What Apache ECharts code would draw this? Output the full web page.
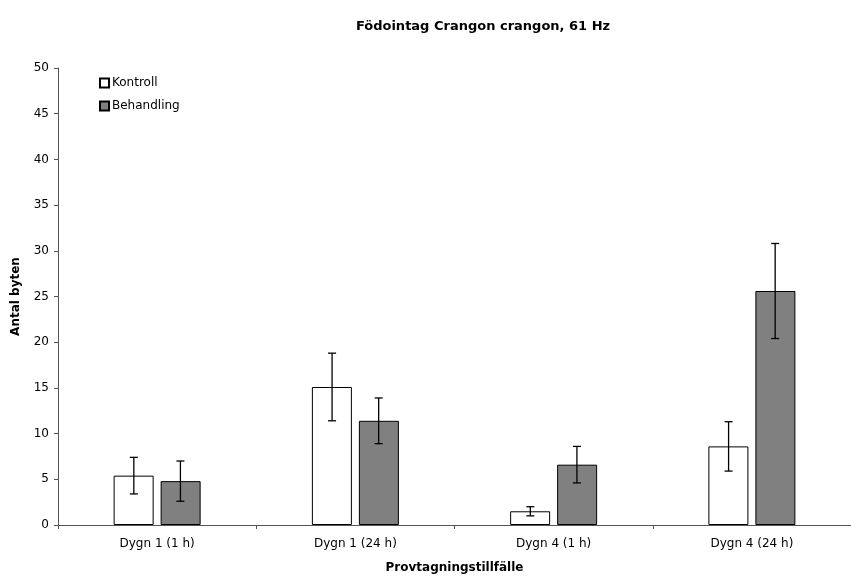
<!DOCTYPE html>
<html><head><meta charset="utf-8">
<script src="https://cdn.jsdelivr.net/npm/echarts@6/dist/echarts.min.js"></script>
<style>html,body{margin:0;padding:0;background:#fff}#c{width:851px;height:579px}</style>
</head><body><div id="c"></div>
<script>
var categories = ['Dygn 1 (1 h)', 'Dygn 1 (24 h)', 'Dygn 4 (1 h)', 'Dygn 4 (24 h)'];
var kontroll = [5.4, 15.1, 1.5, 8.6];
var kontrollErr = [2.0, 3.7, 0.5, 2.7];
var behandling = [4.8, 11.4, 6.6, 25.6];
var behandlingErr = [2.2, 2.5, 2.0, 5.2];
var yTicks = [0, 5, 10, 15, 20, 25, 30, 35, 40, 45, 50];

var FONT = 'Verdana, "DejaVu Sans", sans-serif';
var chart = echarts.init(document.getElementById('c'));

function errSeries(name, vals, errs, side) {
  return {
    type: 'custom', name: name + ' err', silent: true, z: 10,
    data: vals.map(function (v, i) { return [i, v - errs[i], v + errs[i]]; }),
    renderItem: function (params, api) {
      var band = api.size([1, 0])[0];
      var off = side * band * 0.1175;
      var lo = api.coord([api.value(0), api.value(1)]);
      var hi = api.coord([api.value(0), api.value(2)]);
      var x = lo[0] + off, cap = 4;
      var st = { stroke: '#000', lineWidth: 1.3 };
      return { type: 'group', children: [
        { type: 'line', shape: { x1: x, y1: lo[1], x2: x, y2: hi[1] }, style: st },
        { type: 'line', shape: { x1: x - cap, y1: lo[1], x2: x + cap, y2: lo[1] }, style: st },
        { type: 'line', shape: { x1: x - cap, y1: hi[1], x2: x + cap, y2: hi[1] }, style: st }
      ]};
    }
  };
}

chart.setOption({
  animation: false,
  textStyle: { fontFamily: FONT },
  title: {
    text: 'Födointag Crangon crangon, 61 Hz', left: 478, top: 15, textAlign: 'center',
    textStyle: { fontFamily: FONT, fontSize: 13, fontWeight: 'bold', color: '#000' }
  },
  legend: {
    orient: 'vertical', left: 94, top: 72, itemWidth: 9, itemHeight: 9, itemGap: 11,
    icon: 'rect',
    data: ['Kontroll', 'Behandling'],
    textStyle: { fontFamily: FONT, fontSize: 12, color: '#000', padding: [0, 0, 0, -2] }
  },
  grid: { left: 58, top: 68, width: 801, bottom: 50 },
  xAxis: {
    type: 'category', data: categories,
    name: 'Provtagningstillfälle', nameLocation: 'middle', nameGap: 37,
    nameTextStyle: { fontFamily: FONT, fontSize: 12, fontWeight: 'bold', color: '#000', padding: [0, 0, 0, 0] },
    axisLine: { lineStyle: { color: '#555', width: 1 } },
    axisTick: { show: true, length: 4, lineStyle: { color: '#555' } },
    axisLabel: { fontFamily: FONT, fontSize: 12, color: '#000', margin: 13 }
  },
  yAxis: {
    type: 'value', min: 0, max: 50, interval: 5,
    name: 'Antal byten', nameLocation: 'middle', nameGap: 36, nameRotate: 90,
    nameTextStyle: { fontFamily: FONT, fontSize: 12, fontWeight: 'bold', color: '#000' },
    axisLine: { show: true, lineStyle: { color: '#555', width: 1 } },
    axisTick: { show: true, length: 4, lineStyle: { color: '#555' } },
    axisLabel: { fontFamily: FONT, fontSize: 12, color: '#000', margin: 9,
      formatter: function (v) { return yTicks.indexOf(v) >= 0 ? String(v) : ''; } },
    splitLine: { show: false }
  },
  series: [
    { name: 'Kontroll', type: 'bar', data: kontroll, barWidth: 40, barGap: '17.5%',
      itemStyle: { color: '#fff', borderColor: '#000', borderWidth: 1 } },
    { name: 'Behandling', type: 'bar', data: behandling, barWidth: 40,
      itemStyle: { color: '#808080', borderColor: '#000', borderWidth: 1 } },
    errSeries('Kontroll', kontroll, kontrollErr, -1),
    errSeries('Behandling', behandling, behandlingErr, 1)
  ]
});
</script></body></html>
